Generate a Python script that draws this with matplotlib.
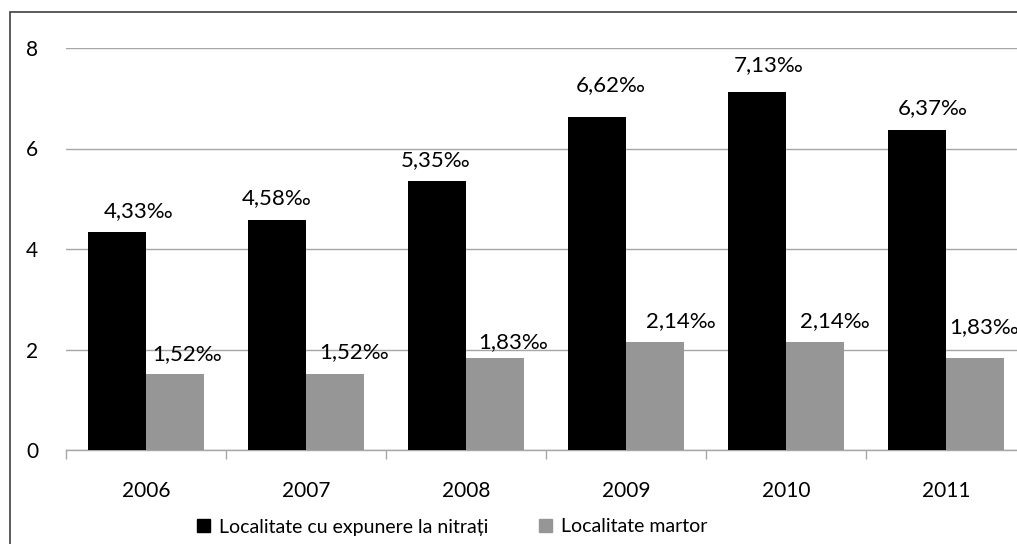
import matplotlib
matplotlib.use("Agg")
import matplotlib.pyplot as plt
import matplotlib.patches as mpatches
import numpy as np

plt.rcParams['font.family'] = ['Lato', 'DejaVu Sans']

# Data
years = ["2006", "2007", "2008", "2009", "2010", "2011"]
exposed = [4.33, 4.58, 5.35, 6.62, 7.13, 6.37]
control = [1.52, 1.52, 1.83, 2.14, 2.14, 1.83]
series_names = ["Localitate cu expunere la nitrați", "Localitate martor"]
y_ticks = [0, 2, 4, 6, 8]

# Label nudges (pixels): horizontal shift, and baseline height above bar top
exposed_label_dx = [22, 0, -1, 14, 12, 16]
exposed_label_dy = [15, 16, 15, 26, 21, 16]
control_label_dx = [12, 19, 18, 26, 20, 9]
control_label_dy = [14, 16, 10, 15, 15, 25]

W, H = 1017, 544
DPI = 100
fig = plt.figure(figsize=(W / DPI, H / DPI), dpi=DPI)

# Outer chart frame
frame = mpatches.Rectangle((10 / W, -0.2), 1.2, 1 - 12 / H + 0.2,
                           transform=fig.transFigure, fill=False,
                           edgecolor="#404040", linewidth=1.2, clip_on=False)
fig.patches.append(frame)

left, right = 66 / W, 1026 / W
bottom, top = 1 - 450 / H, 1 - 48 / H
ax = fig.add_axes([left, bottom, right - left, top - bottom])

x = np.arange(len(years))
bw = 0.3625
black = "#000000"
gray = "#969696"
grid_c = "#a6a6a6"

ax.bar(x - bw / 2, exposed, width=bw, color=black, zorder=3)
ax.bar(x + bw / 2, control, width=bw, color=gray, zorder=3)

ax.set_xlim(-0.5, len(years) - 0.5)
ax.set_ylim(0, 8)
ax.set_yticks(y_ticks)
ax.set_yticklabels([str(v) for v in y_ticks])
ax.yaxis.grid(True, color=grid_c, linewidth=1.0, zorder=0)
ax.set_axisbelow(True)

for s in ["top", "right", "left"]:
    ax.spines[s].set_visible(False)
ax.spines["bottom"].set_color(grid_c)
ax.spines["bottom"].set_linewidth(1.0)

ax.set_xticks(x)
ax.set_xticklabels(years)
ax.set_xticks(np.arange(len(years) + 1) - 0.5, minor=True)
ax.tick_params(axis="x", which="major", length=0, pad=22, labelsize=15)
ax.tick_params(axis="x", which="minor", length=6.5, color=grid_c, width=1.0)
ax.tick_params(axis="y", length=0, pad=20, labelsize=15)

def fmt(v):
    return f"{v:.2f}".replace(".", ",") + "‰"

for xi, v, dx, dy in zip(x - bw / 2, exposed, exposed_label_dx, exposed_label_dy):
    ax.annotate(fmt(v), (xi, v), xytext=(dx, dy), textcoords="offset pixels",
                ha="center", va="baseline", fontsize=16, color="#000000", zorder=5)
for xi, v, dx, dy in zip(x + bw / 2, control, control_label_dx, control_label_dy):
    ax.annotate(fmt(v), (xi, v), xytext=(dx, dy), textcoords="offset pixels",
                ha="center", va="baseline", fontsize=16, color="#000000", zorder=5)

handles = [mpatches.Patch(color=black), mpatches.Patch(color=gray)]
fig.legend(handles, series_names, ncol=2, loc="center left",
           bbox_to_anchor=(197 / W, 1 - 527 / H), frameon=False,
           fontsize=14, handlelength=0.68, handleheight=0.68,
           handletextpad=0.45, columnspacing=2.6, borderpad=0, borderaxespad=0)

fig.savefig("out.png", dpi=DPI)
